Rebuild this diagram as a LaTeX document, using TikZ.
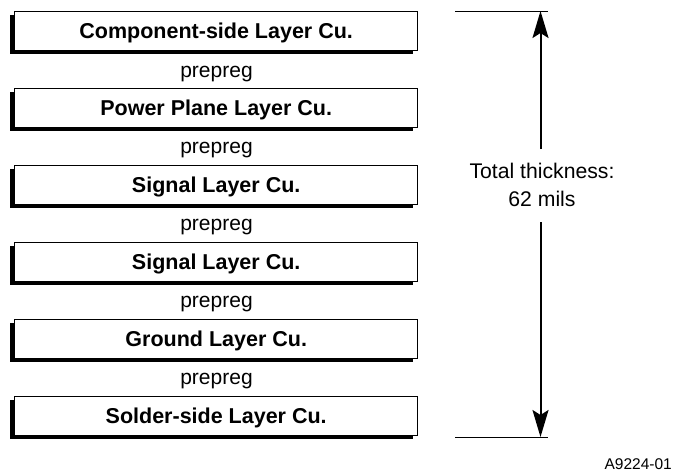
\documentclass[tikz,border=0pt]{standalone}
\usepackage{fontspec}
\setmainfont{Liberation Sans}
\usetikzlibrary{arrows.meta}
\begin{document}
\begin{tikzpicture}[x=1pt,y=-1pt,
  layershadow/.style={fill=black, draw=none, minimum width=403pt, minimum height=39pt, inner sep=0pt, anchor=north west},
  layerbox/.style={draw=black, line width=1.4pt, fill=white, minimum width=403pt, minimum height=39pt, inner sep=0pt, anchor=north west,
    font=\fontsize{21.5}{26}\selectfont\bfseries, text height=15.3pt, text depth=0pt},
  preplabel/.style={anchor=base, inner sep=0pt, font=\fontsize{21}{26}\selectfont},
  dimtext/.style={anchor=base, inner sep=0pt, font=\fontsize{21.2}{26}\selectfont},
  dimline/.style={line width=2pt, -{Stealth[length=27pt, width=16pt, inset=5pt]}},
  extline/.style={line width=1pt},
  figlabel/.style={anchor=base east, inner sep=0pt, font=\fontsize{15.5}{18}\selectfont}]
\useasboundingbox (0,0) rectangle (674,471);
\foreach \i/\t in {0/Component-side Layer Cu., 1/Power Plane Layer Cu., 2/Signal Layer Cu., 3/Signal Layer Cu., 4/Ground Layer Cu., 5/Solder-side Layer Cu.}{
  \node[layershadow] (s\i) at (10, 15+76.9*\i) {};
  \node[layerbox] (b\i) at (14, 11+76.9*\i) {\t};
}
\foreach \i in {0,...,4}{
  \node[preplabel] (p\i) at (216.5, 77+76.9*\i) {prepreg};
}
% dimension
\coordinate (tl) at (455,11);
\coordinate (tr) at (548,11);
\coordinate (bl) at (455,437);
\coordinate (br) at (548,437);
\coordinate (top) at (540.5,11);
\coordinate (bot) at (540.5,437);
\coordinate (ua) at (540.5,149);
\coordinate (la) at (540.5,222);
\draw[extline] (tl) -- (tr);
\draw[extline] (bl) -- (br);
\node[dimtext] (t1) at (542,178) {Total thickness:};
\node[dimtext] (t2) at (542,206) {62 mils};
\draw[dimline] (ua) -- (top);
\draw[dimline] (la) -- (bot);
\node[figlabel] (fig) at (672,469) {A9224-01};
\end{tikzpicture}
\end{document}
